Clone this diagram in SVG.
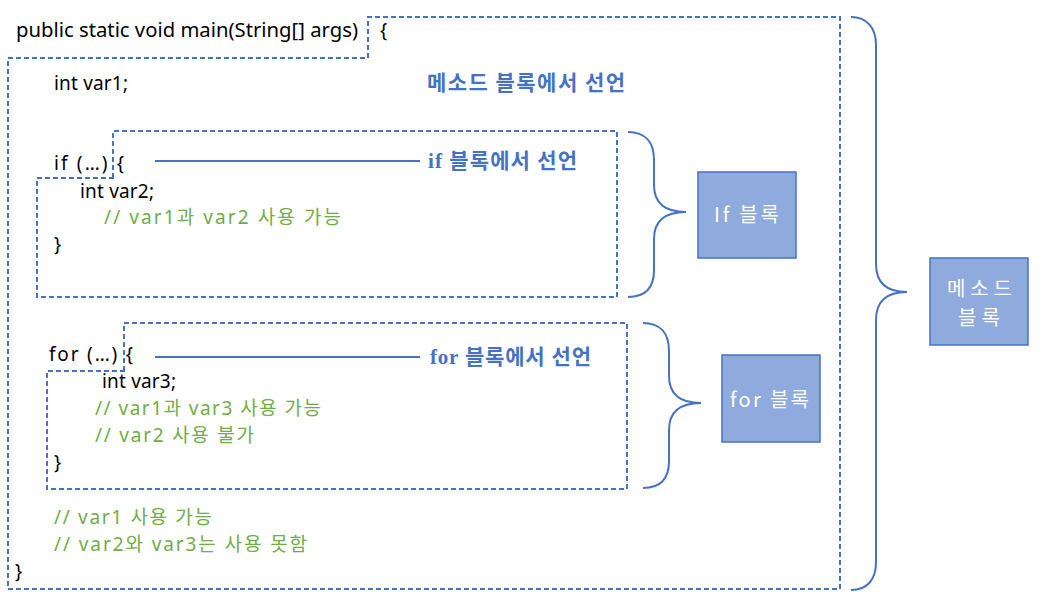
<svg xmlns="http://www.w3.org/2000/svg" width="1043" height="603" viewBox="0 0 1043 603">
<style>
.code{font-family:"Noto Sans","Noto Sans CJK KR",sans-serif;font-size:19px;fill:#000}
.cm{font-family:"Noto Sans","Noto Sans CJK KR",sans-serif;font-size:19px;fill:#70AD47}
.lbl{font-family:"Noto Sans CJK KR",sans-serif;font-size:21px;font-weight:bold;fill:#4472C4}
.lbls{font-family:"Liberation Serif","Noto Sans CJK KR",serif;font-size:21px;font-weight:bold;fill:#4472C4}
.dash{fill:none;stroke:#4472C4;stroke-width:2;stroke-dasharray:5 3}
.brace{fill:none;stroke:#4472C4;stroke-width:2}
.box{fill:#8FAADC;stroke:#4472C4;stroke-width:1.5}
.bt{font-family:"Noto Sans CJK KR",sans-serif;font-size:20px;fill:#fff}
</style>
<rect width="1043" height="603" fill="#fff"/>
<g id="method-block">
<path class="dash" d="M368,58 V17 H840 V589 H8 V58 Z"/>
<text class="code" x="16" y="37" textLength="342" lengthAdjust="spacingAndGlyphs">public static void main(String[] args)</text>
<text class="code" x="380" y="37">{</text>
<text class="code" x="54" y="90" textLength="74">int var1;</text>
<text class="lbl" x="427" y="90" textLength="198">메소드 블록에서 선언</text>
<text class="cm" x="54" y="524" textLength="158">// var1 사용 가능</text>
<text class="cm" x="54" y="551" textLength="253">// var2와 var3는 사용 못함</text>
<text class="code" x="15" y="578">}</text>
</g>
<g id="if-block">
<path class="dash" d="M113,178 V131 H617 V297 H37 V178 Z"/>
<text class="code" x="54" y="170" textLength="70">if (…) {</text>
<text class="code" x="80" y="198" textLength="74">int var2;</text>
<text class="cm" x="104" y="224" textLength="237">// var1과 var2 사용 가능</text>
<text class="code" x="54" y="251">}</text>
<text class="lbls" x="428" y="168" textLength="149">if 블록에서 선언</text>
</g>
<g id="for-block">
<path class="dash" d="M124,371 V323 H627 V489 H47 V371 Z"/>
<text class="code" x="49" y="361" textLength="84">for (…) {</text>
<text class="code" x="102" y="388" textLength="74">int var3;</text>
<text class="cm" x="95" y="415" textLength="226">// var1과 var3 사용 가능</text>
<text class="cm" x="95" y="442" textLength="159">// var2 사용 불가</text>
<text class="code" x="54" y="469">}</text>
<text class="lbls" x="430" y="364" textLength="161">for 블록에서 선언</text>
</g>
<g id="if-label">
<rect class="box" x="698" y="172" width="98" height="86"/>
<text class="bt" x="714" y="222" textLength="65">If 블록</text>
</g>
<g id="for-label">
<rect class="box" x="722" y="355" width="98" height="87"/>
<text class="bt" x="730" y="407" textLength="79">for 블록</text>
</g>
<g id="method-label">
<rect class="box" x="930" y="258" width="98" height="87"/>
<text class="bt" x="947" y="296" textLength="65">메소드</text>
<text class="bt" x="958" y="325" textLength="42">블록</text>
</g>
<g id="connectors">
<line class="brace" x1="155" y1="161" x2="420" y2="161"/>
<line class="brace" x1="155" y1="357" x2="420" y2="357"/>
<path class="brace" d="M628,132 C645,132 654,142 654,160 V185 C654,203 665,212 686,212 C665,212 654,221 654,239 V270 C654,288 645,297 628,297"/>
<path class="brace" d="M643,323 C660,323 669,333 669,351 V376 C669,394 680,403 701,403 C680,403 669,412 669,430 V461 C669,479 660,488 643,488"/>
<path class="brace" d="M851,17 C867,17 876,28 876,45 V264 C876,282 886,292 907,292 C886,292 876,302 876,320 V562 C876,580 867,590 851,590"/>
</g>
</svg>
